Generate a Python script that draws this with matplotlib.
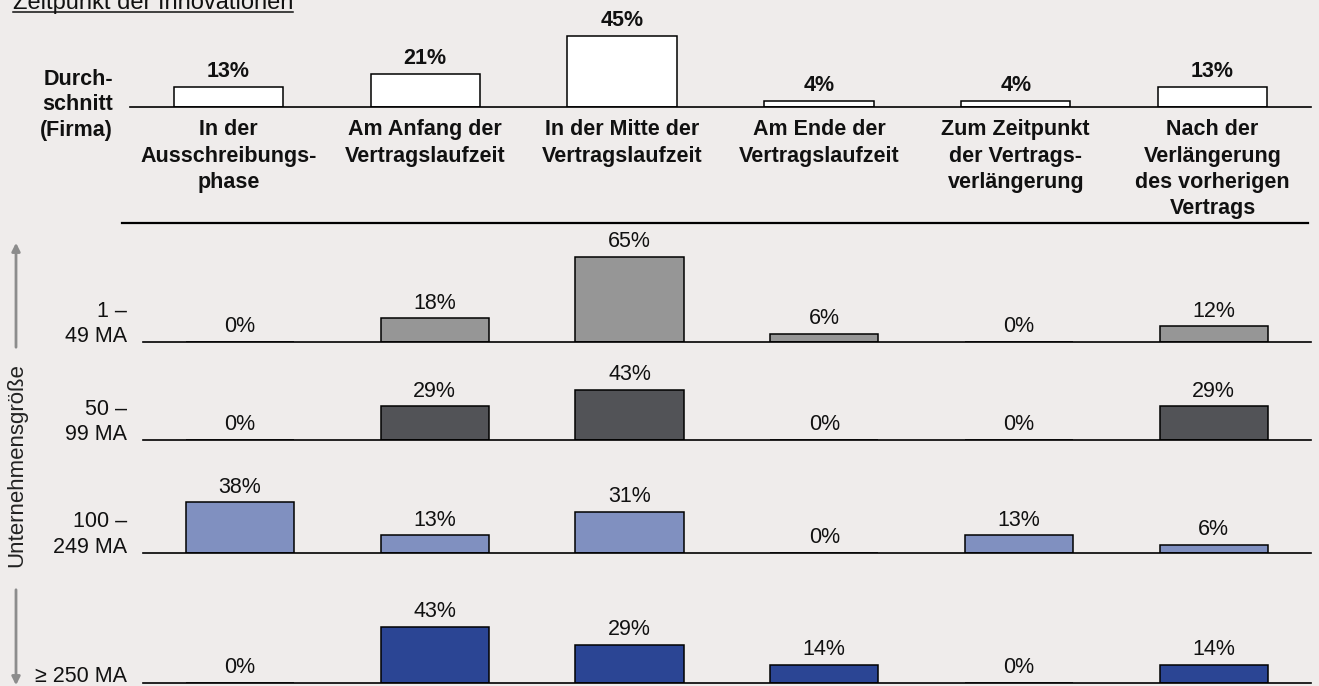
import matplotlib
matplotlib.use("Agg")
import matplotlib.pyplot as plt
from matplotlib.lines import Line2D
from matplotlib.patches import FancyArrowPatch

plt.rcParams['font.family'] = ['Liberation Sans', 'DejaVu Sans']

# data
categories = ["In der\nAusschreibungs-\nphase", "Am Anfang der\nVertragslaufzeit",
              "In der Mitte der\nVertragslaufzeit", "Am Ende der\nVertragslaufzeit",
              "Zum Zeitpunkt\nder Vertrags-\nverlängerung",
              "Nach der\nVerlängerung\ndes vorherigen\nVertrags"]
average = [13, 21, 45, 4, 4, 13]
size_labels = ["1 –\n49 MA", "50 –\n99 MA", "100 –\n249 MA", "≥ 250 MA"]
size_1_49 = [0, 18, 65, 6, 0, 12]
size_50_99 = [0, 29, 43, 0, 0, 29]
size_100_249 = [38, 13, 31, 0, 13, 6]
size_250 = [0, 43, 29, 14, 0, 14]
size_values = [size_1_49, size_50_99, size_100_249, size_250]
size_colors = ["#969696", "#525357", "#8090c0", "#2b4594"]

W, H = 1319, 686
BG = "#efeceb"
FS = 15.5

fig = plt.figure(figsize=(W / 100, H / 100), dpi=100, facecolor=BG)


def fx(x):
    return x / W


def fy(y):
    return 1 - y / H


def panel(x0, x1, base, scale, ymax):
    ax = fig.add_axes([fx(x0), fy(base), (x1 - x0) / W, ymax * scale / H])
    ax.set_facecolor("none")
    ax.set_xlim(-0.5, 5.5)
    ax.set_ylim(0, ymax)
    for s in ["top", "right", "left"]:
        ax.spines[s].set_visible(False)
    ax.spines["bottom"].set_linewidth(1.2)
    ax.set_yticks([])
    ax.tick_params(axis="x", length=0)
    return ax


def bar_labels(ax, vals, bold):
    for i, v in enumerate(vals):
        ax.annotate(f"{v}%", (i, v), xytext=(0, 7), textcoords="offset points",
                    ha="center", va="baseline", fontsize=FS,
                    fontweight="bold" if bold else "normal", color="#111111",
                    annotation_clip=False)


# top panel: average
ax = panel(130, 1311, 107.3, 1.58, 50)
ax.bar(range(6), average, width=0.555, color="white", edgecolor="black", linewidth=1.1)
bar_labels(ax, average, True)
ax.set_xticks(range(6))
ax.set_xticklabels(categories, fontsize=FS, fontweight="bold", linespacing=1.33, color="#111111")
ax.tick_params(axis="x", pad=8.6)
fig.text(fx(113), fy(105), "Durch-\nschnitt\n(Firma)", ha="right", va="center",
         fontsize=FS, fontweight="bold", linespacing=1.27, color="#111111")

# separator
fig.add_artist(Line2D([fx(122), fx(1308)], [fy(223), fy(223)], color="black", lw=1.6))

# size panels
bases = [342, 440, 552.5, 683]
scales = [1.31, 1.16, 1.32, 1.31]
for vals, lab, col, base, sc in zip(size_values, size_labels, size_colors, bases, scales):
    ax = panel(142.7, 1311, base, sc, 70)
    ax.bar(range(6), vals, width=0.555, color=col, edgecolor="black", linewidth=1.1)
    bar_labels(ax, vals, False)
    ax.set_xticks([])
    nlines = lab.count("\n") + 1
    cy = base - 6.5 - (nlines - 1) * 11.5
    fig.text(fx(127), fy(cy), lab, ha="right", va="center", fontsize=FS,
             linespacing=1.27, color="#111111")

# vertical axis label with arrows
fig.text(fx(17), fy(465), "Unternehmensgröße", rotation=90, ha="center", va="center",
         fontsize=16, color="#222222")
fig.add_artist(FancyArrowPatch((fx(16), fy(350)), (fx(16), fy(240)), transform=fig.transFigure,
                               arrowstyle="-|>", mutation_scale=12, lw=2, color="#8c8c8c"))
fig.add_artist(FancyArrowPatch((fx(16), fy(587)), (fx(16), fy(688)), transform=fig.transFigure,
                               arrowstyle="-|>", mutation_scale=12, lw=2, color="#8c8c8c"))

# title, underlined
t = fig.text(fx(13), fy(9), "Zeitpunkt der Innovationen", ha="left", va="baseline",
             fontsize=17, color="#111111")
fig.canvas.draw()
bb = t.get_window_extent()
fig.add_artist(Line2D([bb.x0 / W, bb.x1 / W], [fy(11.7), fy(11.7)], color="#111111", lw=1.1))

fig.savefig("out.png", dpi=100, facecolor=BG)
